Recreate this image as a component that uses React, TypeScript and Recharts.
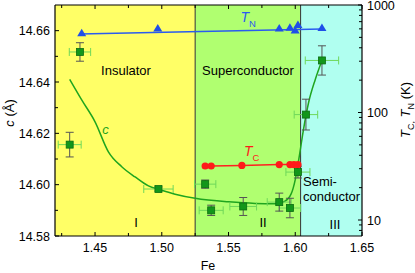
import React from 'react';
import {
  ComposedChart, XAxis, YAxis, Line, Scatter, ErrorBar, ReferenceArea, ReferenceLine,
} from 'recharts';

// ---- data ----
const cFe = [1.431, 1.4387, 1.4975, 1.5325, 1.537, 1.561, 1.588, 1.596, 1.602, 1.608, 1.62];
const cVal = [14.6156, 14.6517, 14.5983, 14.6002, 14.59, 14.5915, 14.5932, 14.5909, 14.6049, 14.6273, 14.6484];
const cErrY = [0.0048, 0.0036, 0.0008, 0.0016, 0.002, 0.0035, 0.0035, 0.0038, 0.0023, 0.006, 0.0057];
const cErrX = [0.0086, 0.008, 0.011, 0.008, 0.009, 0.01, 0.009, 0.008, 0.009, 0.0088, 0.0125];

const curveFe = [1.431, 1.44, 1.45, 1.46, 1.47, 1.48, 1.49, 1.5, 1.51, 1.525, 1.55, 1.57, 1.585, 1.592, 1.597, 1.6, 1.603, 1.606, 1.61, 1.615, 1.62];
const curveC = [14.641, 14.633, 14.6245, 14.6128, 14.607, 14.603, 14.5995, 14.5978, 14.5963, 14.5947, 14.5933, 14.5927, 14.5926, 14.5935, 14.5965, 14.602, 14.611, 14.621, 14.632, 14.641, 14.6484];

const tnFe = [1.44, 1.497, 1.588, 1.596, 1.5999, 1.602, 1.62];
const tnVal = [545, 605, 605, 615, 580, 650, 610];
const tnFitFe = [1.4385, 1.62];
const tnFitVal = [537, 598];

const tcFe = [1.5325, 1.537, 1.56, 1.588, 1.596, 1.599, 1.602];
const tcVal = [31.8, 31.8, 32.2, 32.8, 32.8, 32.8, 32.8];

const regionEdges = [1.42, 1.525, 1.604, 1.65];
const regionColors = ['#ffff66', '#b0ff70', '#b0fff0'];

const xTicks = [1.425, 1.45, 1.475, 1.5, 1.525, 1.55, 1.575, 1.6, 1.625, 1.65];
const xLabels = [1.45, 1.5, 1.55, 1.6, 1.65];
const cTicks = [14.58, 14.59, 14.6, 14.61, 14.62, 14.63, 14.64, 14.65, 14.66];
const cLabels = [14.58, 14.6, 14.62, 14.64, 14.66];
const tTicks = [8, 9, 10, 20, 30, 40, 50, 60, 70, 80, 90, 100, 200, 300, 400, 500, 600, 700, 800, 900, 1000];
const tLabels = [10, 100, 1000];

// ---- tables ----
const cData = cFe.map((x, i) => ({ x, y: cVal[i], ex: cErrX[i], ey: cErrY[i] }));
const curveData = curveFe.map((x, i) => ({ x, y: curveC[i] }));
const tnData = tnFe.map((x, i) => ({ x, y: tnVal[i] }));
const tnFitData = tnFitFe.map((x, i) => ({ x, y: tnFitVal[i] }));
const tcData = tcFe.map((x, i) => ({ x, y: tcVal[i] }));

const FONT = '"Liberation Sans", Arial, Helvetica, sans-serif';
const W = 415;
const H = 273;
const isIn = (arr: number[], v: number) => arr.some((a) => Math.abs(a - v) < 1e-6);

const BOTTOM_MARGIN = 7;
const BottomTick = (p: any) => {
  const v = p.payload.value;
  const ay = p.y - BOTTOM_MARGIN;
  const major = isIn(xLabels, v);
  return (
    <g>
      <line x1={p.x} x2={p.x} y1={ay} y2={ay - (major ? 4 : 3)} stroke="#000" strokeWidth={1} />
      {major && (
        <text x={p.x} y={p.y} dy="0.71em" textAnchor="middle" fontSize={12.5} fontFamily={FONT} fill="#000">
          {v.toFixed(2)}
        </text>
      )}
    </g>
  );
};
const TopTick = (p: any) => {
  const v = p.payload.value;
  const major = isIn(xLabels, v);
  return <line x1={p.x} x2={p.x} y1={p.y} y2={p.y + (major ? 4 : 3)} stroke="#000" strokeWidth={1} />;
};
const LEFT_MARGIN = 5;
const LeftTick = (p: any) => {
  const v = p.payload.value;
  const ax = p.x + LEFT_MARGIN;
  const major = isIn(cLabels, v);
  return (
    <g>
      <line x1={ax} x2={ax + (major ? 4 : 3)} y1={p.y} y2={p.y} stroke="#000" strokeWidth={1} />
      {major && (
        <text x={p.x} y={p.y} dy="0.36em" textAnchor="end" fontSize={12.5} fontFamily={FONT} fill="#000">
          {v.toFixed(2)}
        </text>
      )}
    </g>
  );
};
const RIGHT_MARGIN = 5;
const RightTick = (p: any) => {
  const v = p.payload.value;
  const ax = p.x - RIGHT_MARGIN;
  const major = isIn(tLabels, v);
  return (
    <g>
      <line x1={ax} x2={ax - (major ? 4 : 3)} y1={p.y} y2={p.y} stroke="#000" strokeWidth={1} />
      {major && (
        <text x={p.x} y={p.y} dy="0.36em" textAnchor="start" fontSize={12.5} fontFamily={FONT} fill="#000">
          {v}
        </text>
      )}
    </g>
  );
};

const Square = (p: any) => (
  <rect x={p.cx - 3.5} y={p.cy - 3.5} width={7} height={7} fill="#12961a" stroke="#0b6e10" strokeWidth={0.8} />
);
const Tri = (p: any) => (
  <polygon points={`${p.cx},${p.cy - 4.5} ${p.cx + 4.5},${p.cy + 3} ${p.cx - 4.5},${p.cy + 3}`} fill="#1f4fe8" />
);
const Dot = (p: any) => <circle cx={p.cx} cy={p.cy} r={3.6} fill="#ff1a1a" />;

export default function App() {
  return (
    <div style={{ position: 'absolute', left: 0, top: 0, width: W, height: H, background: '#fff' }}>
      <ComposedChart width={W} height={H} margin={{ top: 0, right: 0, bottom: 0, left: 0 }}>
        {regionColors.map((col, i) => (
          <ReferenceArea
            key={i}
            x1={regionEdges[i]}
            x2={regionEdges[i + 1]}
            yAxisId="left"
            y1={14.58}
            y2={14.67}
            fill={col}
            fillOpacity={1}
            stroke="none"
            ifOverflow="hidden"
          />
        ))}
        <ReferenceLine x={regionEdges[1]} yAxisId="left" stroke="#333" strokeWidth={1} />
        <ReferenceLine x={regionEdges[2]} yAxisId="left" stroke="#333" strokeWidth={1} />
        <XAxis
          dataKey="x"
          type="number"
          domain={[1.42, 1.65]}
          ticks={xTicks}
          interval={0}
          height={37}
          tickSize={0}
          tickMargin={BOTTOM_MARGIN}
          tick={<BottomTick />}
          axisLine={{ stroke: '#000', strokeWidth: 1.2 }}
          allowDataOverflow
        />
        <XAxis
          xAxisId="top"
          orientation="top"
          dataKey="x"
          type="number"
          domain={[1.42, 1.65]}
          ticks={xTicks}
          interval={0}
          height={5}
          tickSize={0}
          tickMargin={0}
          tick={<TopTick />}
          axisLine={{ stroke: '#000', strokeWidth: 1.2 }}
          allowDataOverflow
        />
        <YAxis
          yAxisId="left"
          type="number"
          domain={[14.58, 14.67]}
          ticks={cTicks}
          interval={0}
          width={55}
          tickSize={0}
          tickMargin={LEFT_MARGIN}
          tick={<LeftTick />}
          axisLine={{ stroke: '#000', strokeWidth: 1.2 }}
          allowDataOverflow
        />
        <YAxis
          yAxisId="right"
          orientation="right"
          type="number"
          scale="log"
          domain={[7.1, 1000]}
          ticks={tTicks}
          interval={0}
          width={53}
          tickSize={0}
          tickMargin={RIGHT_MARGIN}
          tick={<RightTick />}
          axisLine={{ stroke: '#000', strokeWidth: 1.2 }}
          allowDataOverflow
        />
        <Line
          data={curveData}
          dataKey="y"
          yAxisId="left"
          type="monotone"
          stroke="#1fa51f"
          strokeWidth={1.5}
          dot={false}
          isAnimationActive={false}
        />
        <Line
          data={tnFitData}
          dataKey="y"
          yAxisId="right"
          type="linear"
          stroke="#2a5cf0"
          strokeWidth={1.5}
          dot={false}
          isAnimationActive={false}
        />
        <Line
          data={tcData}
          dataKey="y"
          yAxisId="right"
          type="linear"
          stroke="#ff2020"
          strokeWidth={1.5}
          dot={false}
          isAnimationActive={false}
        />
        <Scatter data={tnData} dataKey="y" yAxisId="right" shape={<Tri />} isAnimationActive={false} />
        <Scatter data={tcData} dataKey="y" yAxisId="right" shape={<Dot />} isAnimationActive={false} />
        <Scatter data={cData} dataKey="y" yAxisId="left" shape={<Square />} isAnimationActive={false}>
          <ErrorBar dataKey="ex" direction="x" stroke="#6fd85a" strokeWidth={1} width={4} />
          <ErrorBar dataKey="ey" direction="y" stroke="#555" strokeWidth={1} width={4} />
        </Scatter>
      </ComposedChart>
      <svg
        width={W}
        height={H}
        style={{ position: 'absolute', left: 0, top: 0, pointerEvents: 'none' }}
        fontFamily={FONT}
      >
        <text x={126} y={70} dy="0.36em" textAnchor="middle" fontSize={13}>Insulator</text>
        <text x={248} y={70} dy="0.36em" textAnchor="middle" fontSize={13}>Superconductor</text>
        <text x={303} y={181} dy="0.36em" textAnchor="start" fontSize={13}>Semi-</text>
        <text x={303} y={196.5} dy="0.36em" textAnchor="start" fontSize={13}>conductor</text>
        <text x={136} y={222} dy="0.36em" textAnchor="middle" fontSize={13}>I</text>
        <text x={263} y={222} dy="0.36em" textAnchor="middle" fontSize={13}>II</text>
        <text x={335} y={224} dy="0.36em" textAnchor="middle" fontSize={13}>III</text>
        <text x={105.5} y={130} dy="0.3em" textAnchor="middle" fontSize={13} fontStyle="italic" fill="#1fa51f">c</text>
        <text x={244} y={151} dy="0.36em" textAnchor="start" fontSize={14} fontStyle="italic" fill="#ff1a1a">
          T<tspan fontSize={9.5} fontStyle="normal" dy={5}>C</tspan>
        </text>
        <text x={240.5} y={17} dy="0.36em" textAnchor="start" fontSize={14} fontStyle="italic" fill="#2a5cf0">
          T<tspan fontSize={9.5} fontStyle="normal" dy={5}>N</tspan>
        </text>
        <text x={208} y={265.5} dy="0.36em" textAnchor="middle" fontSize={12.5}>Fe</text>
        <text transform="translate(14,113) rotate(-90)" textAnchor="middle" fontSize={13}>
          <tspan fontStyle="italic">c</tspan> (Å)
        </text>
        <text transform="translate(410,110) rotate(-90)" textAnchor="middle" fontSize={13}>
          <tspan fontStyle="italic">T</tspan>
          <tspan fontSize={9} dy={4}>C,</tspan>
          <tspan dy={-4}> </tspan>
          <tspan fontStyle="italic">T</tspan>
          <tspan fontSize={9} dy={4}>N</tspan>
          <tspan dy={-4}> (K)</tspan>
        </text>
      </svg>
    </div>
  );
}
